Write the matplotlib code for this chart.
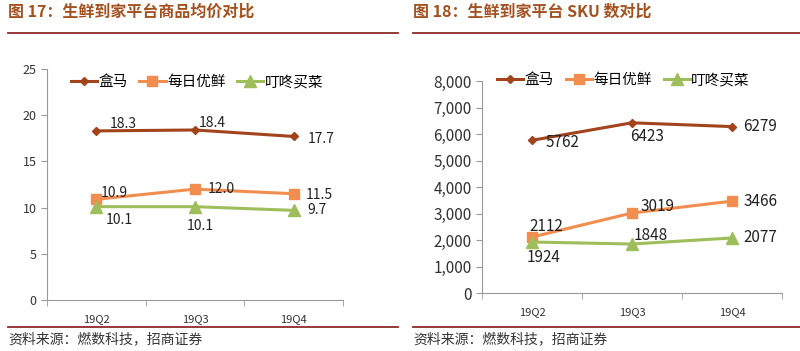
import matplotlib
matplotlib.use("Agg")
import matplotlib.pyplot as plt
from matplotlib.ticker import FuncFormatter

plt.rcParams['font.family'] = ['Noto Sans CJK SC', 'DejaVu Sans']

# Data
quarters = ['19Q2', '19Q3', '19Q4']
series_names = ['盒马', '每日优鲜', '叮咚买菜']
price_hema = [18.3, 18.4, 17.7]
price_mryx = [10.9, 12.0, 11.5]
price_ddmc = [10.1, 10.1, 9.7]
sku_hema = [5762, 6423, 6279]
sku_mryx = [2112, 3019, 3466]
sku_ddmc = [1924, 1848, 2077]

colors = ['#A2431B', '#F18D4E', '#9DBE5A']
markers = ['D', 's', '^']
msizes = [4, 7, 8]
title_color = '#A4501F'
rule_color = '#8E2A2A'
W, H = 800, 351

fig = plt.figure(figsize=(8, 3.51), dpi=100)


def frac(x0, y_top, x1, y_bot):
    return [x0 / W, (H - y_bot) / H, (x1 - x0) / W, (y_bot - y_top) / H]


def draw(ax, data, labels_off, ymax, ystep, yfmt, ytick_size, lab_size, leg_size, leg_pos):
    xs = range(len(quarters))
    handles = []
    for vals, c, m, ms, offs in zip(data, colors, markers, msizes, labels_off):
        h, = ax.plot(xs, vals, color=c, lw=2.2, marker=m, markersize=ms)
        handles.append(h)
        for x, v, off in zip(xs, vals, offs):
            txt = f'{v:.1f}' if isinstance(v, float) else str(v)
            ax.annotate(txt, (x, v), xytext=off, textcoords='offset points',
                        fontsize=lab_size, color='#222222', ha='left', va='center')
    ax.set_xlim(-0.5, len(quarters) - 0.5)
    ax.set_ylim(0, ymax)
    ax.set_yticks([i * ystep for i in range(int(ymax / ystep) + 1)])
    ax.yaxis.set_major_formatter(FuncFormatter(yfmt))
    ax.set_xticks(list(xs))
    ax.set_xticklabels(quarters, fontsize=8, color='#333333')
    ax.set_xticks([-0.5, 0.5, 1.5, 2.5], minor=True)
    ax.tick_params(axis='x', which='major', length=0, pad=10)
    ax.tick_params(axis='x', which='minor', length=4, color='#999999')
    ax.tick_params(axis='y', labelsize=ytick_size, colors='#333333', length=4)
    ax.tick_params(axis='y', color='#999999')
    for s in ['top', 'right']:
        ax.spines[s].set_visible(False)
    for s in ['left', 'bottom']:
        ax.spines[s].set_color('#999999')
    ax.legend(handles, series_names, loc='center left', bbox_to_anchor=leg_pos,
              ncol=3, frameon=False, fontsize=leg_size, handlelength=1.8,
              columnspacing=0.8, handletextpad=0.1, borderpad=0, borderaxespad=0)


ax1 = fig.add_axes(frac(47, 69, 343, 300))
draw(ax1, [price_hema, price_mryx, price_ddmc],
     [[(9.5, 5), (3, 5), (10, -1.5)],
      [(3.5, 4.5), (9.5, 0), (9, -1)],
      [(7, -9.5), (-6, -14), (10, 0)]],
     25, 5, lambda v, p: f'{v:.0f}', 9, 10, 10.5, (0.08, 0.944))

ax2 = fig.add_axes(frac(482, 81, 782, 293))
draw(ax2, [sku_hema, sku_mryx, sku_ddmc],
     [[(9.5, -1.5), (-1.5, -10), (8, 0)],
      [(-2, 7.5), (6, 5), (8, 0)],
      [(-4, -11), (1, 6.5), (8, 0)]],
     8000, 1000, lambda v, p: f'{v:,.0f}', 11, 11, 10.5, (0.05, 1.005))

# titles, rules and sources
fig.text(8 / W, 1 - 12 / H, '图 17：生鲜到家平台商品均价对比', fontsize=11.5,
         fontweight='bold', color=title_color, va='center')
fig.text(413 / W, 1 - 12 / H, '图 18：生鲜到家平台 SKU 数对比', fontsize=11.5,
         fontweight='bold', color=title_color, va='center')
for x0, x1 in [(8, 398), (413, 800)]:
    fig.add_artist(plt.Line2D([x0 / W, x1 / W], [1 - 33 / H] * 2,
                              color=rule_color, lw=1.3))
    fig.add_artist(plt.Line2D([x0 / W, x1 / W], [1 - 327 / H] * 2,
                              color=rule_color, lw=1.3))
fig.text(8 / W, 1 - 339 / H, '资料来源：燃数科技，招商证券', fontsize=10,
         color='#333333', va='center')
fig.text(413 / W, 1 - 339 / H, '资料来源：燃数科技，招商证券', fontsize=10,
         color='#333333', va='center')

fig.savefig('out.png', dpi=100, facecolor='white')
